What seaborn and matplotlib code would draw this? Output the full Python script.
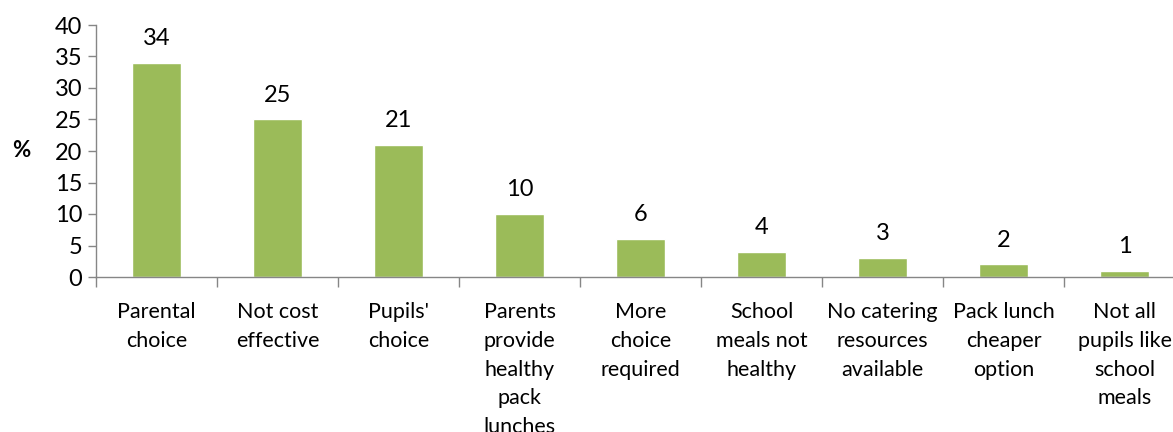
import matplotlib
matplotlib.use("Agg")
import matplotlib.pyplot as plt
import seaborn as sns
import pandas as pd
import numpy as np

categories = ["Parental\nchoice", "Not cost\neffective", "Pupils'\nchoice",
              "Parents\nprovide\nhealthy\npack\nlunches", "More\nchoice\nrequired",
              "School\nmeals not\nhealthy", "No catering\nresources\navailable",
              "Pack lunch\ncheaper\noption", "Not all\npupils like\nschool\nmeals"]
values = [34, 25, 21, 10, 6, 4, 3, 2, 1]
yticks = [0, 5, 10, 15, 20, 25, 30, 35, 40]

sns.set_theme(style="white")
plt.rcParams['font.family'] = ['Lato', 'DejaVu Sans']
plt.rcParams['text.color'] = 'black'
plt.rcParams['xtick.color'] = 'black'
plt.rcParams['ytick.color'] = 'black'
plt.rcParams['axes.labelcolor'] = 'black'

fig = plt.figure(figsize=(11.73, 4.32), dpi=100)
W, H = 1173, 432
ax = fig.add_axes([96 / W, (H - 277) / H, (1185 - 96) / W, (277 - 25) / H])

df = pd.DataFrame({"cat": categories, "val": values})
sns.barplot(data=df, x="cat", y="val", color="#9BBB59", saturation=1, width=0.4, ax=ax)

ax.set_ylim(0, 40)
ax.set_xlim(-0.5, len(categories) - 0.5)
ax.set_yticks(yticks)
ax.set_yticklabels([str(t) for t in yticks], fontsize=17)
ax.set_xticks(np.arange(len(categories)))
ax.set_xticklabels(categories, fontsize=15.5, linespacing=1.55)
ax.set_xlabel("")
ax.set_ylabel("%", fontsize=16, fontweight="bold", rotation=0)
ax.yaxis.set_label_coords(-0.069, 0.46)

for i, v in enumerate(values):
    ax.text(i, v + 2.2, str(v), ha="center", va="bottom", fontsize=17)

for s in ["top", "right"]:
    ax.spines[s].set_visible(False)
for s in ["left", "bottom"]:
    ax.spines[s].set_color("#868686")
    ax.spines[s].set_linewidth(1.0)

ax.tick_params(axis="y", which="major", direction="out", length=6, width=1, color="#868686", left=True, pad=4)
ax.tick_params(axis="x", which="major", length=0, pad=18)
ax.set_xticks(np.arange(len(categories) + 1) - 0.5, minor=True)
ax.tick_params(axis="x", which="minor", direction="out", length=7, width=1, color="#868686", bottom=True)

fig.savefig("out.png", dpi=100)
